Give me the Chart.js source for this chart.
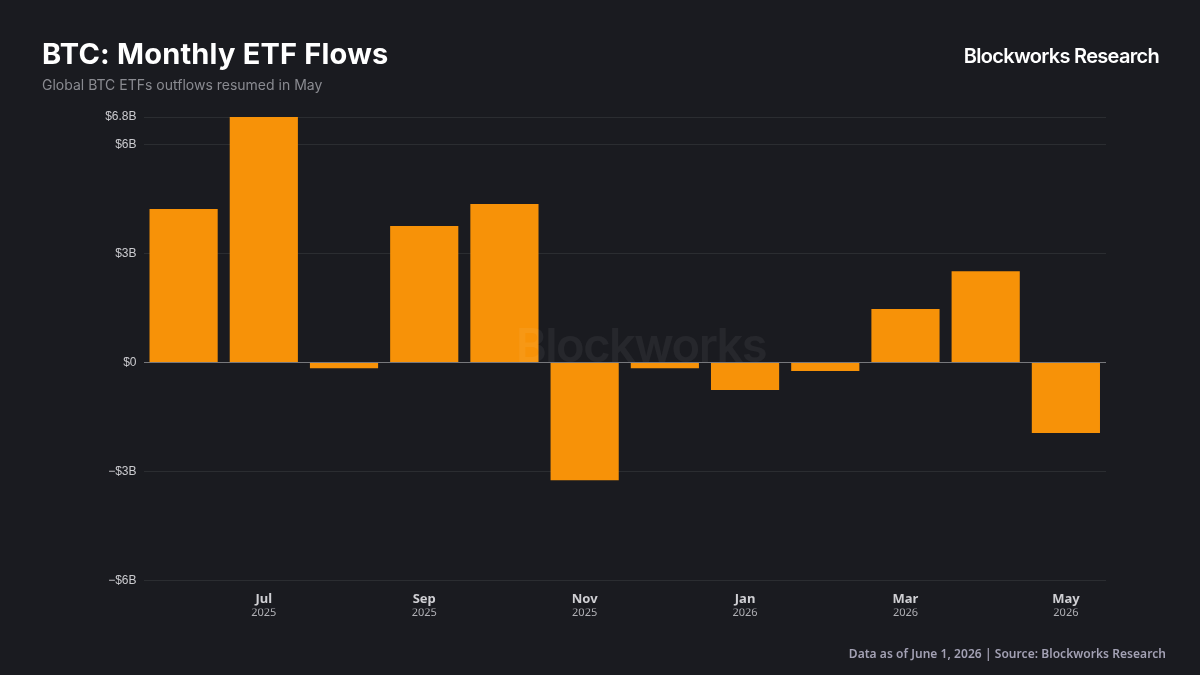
<!DOCTYPE html>
<html>
<head>
<meta charset="utf-8">
<script src="https://cdn.jsdelivr.net/npm/chart.js@4"></script>
<style>
html, body { margin: 0; padding: 0; background: #1a1b20; }
#wrap { position: relative; width: 1200px; height: 675px; overflow: hidden; background: #1a1b20; }
#chart { position: absolute; left: 0; top: 0; }
.txt { position: absolute; white-space: nowrap; }
#title { left: 42px; top: 36px; font: 700 29px Inter, sans-serif; letter-spacing: 0.2px; color: #fff; }
#subtitle { left: 42px; top: 76px; font: 400 14px Inter, sans-serif; color: #8a8b91; }
#brand { right: 41px; top: 44px; font: 600 20px Inter, sans-serif; letter-spacing: -0.7px; color: #fff; }
#source { right: 34px; top: 645px; font: 600 12px "Noto Sans", sans-serif; letter-spacing: 0.05px; color: #a3a1b4; }
</style>
</head>
<body>
<div id="wrap">
  <canvas id="chart" width="1200" height="675"></canvas>
  <div class="txt" id="title">BTC: Monthly ETF Flows</div>
  <div class="txt" id="subtitle">Global BTC ETFs outflows resumed in May</div>
  <div class="txt" id="brand">Blockworks Research</div>
  <div class="txt" id="source">Data as of June 1, 2026 | Source: Blockworks Research</div>
</div>
<script>
const months = ["Jun", "Jul", "Aug", "Sep", "Oct", "Nov", "Dec", "Jan", "Feb", "Mar", "Apr", "May"];
const years = ["2025", "2025", "2025", "2025", "2025", "2025", "2025", "2026", "2026", "2026", "2026", "2026"];
const flows = [4.22, 6.75, -0.16, 3.75, 4.36, -3.24, -0.16, -0.76, -0.24, 1.47, 2.51, -1.94];
const yTicks = [-6, -3, 0, 3, 6, 6.75];

function yLabel(v) {
    if (v === 0) return "$0";
    return (v < 0 ? "\u2212" : "") + "$" + (v === 6.75 ? "6.8" : Math.abs(v)) + "B";
}

// faint logo sits on top of the bars
const watermark = {
    id: "watermark",
    afterDatasetsDraw(c) {
        const ctx = c.ctx;
        ctx.save();
        ctx.font = "600 47px Inter, sans-serif";
        ctx.letterSpacing = "-1.5px";
        ctx.fillStyle = "rgba(255,255,255,0.055)";
        ctx.textAlign = "center";
        ctx.textBaseline = "alphabetic";
        ctx.fillText("Blockworks", 641, 362);
        ctx.restore();
    }
};

new Chart(document.getElementById("chart"), {
    type: "bar",
    data: {
        labels: months,
        datasets: [{
            data: flows,
            backgroundColor: "#f79208",
            borderWidth: 0,
            barPercentage: 0.85,
            categoryPercentage: 1
        }]
    },
    options: {
        responsive: false,
        animation: false,
        layout: { padding: { left: 0, right: 94, top: 117, bottom: 50.5 } },
        plugins: { legend: { display: false }, tooltip: { enabled: false } },
        scales: {
            x: {
                position: "bottom",
                grid: { display: false, drawTicks: false },
                border: { display: false },
                afterFit(s) { s.height = 28; },
                ticks: {
                    autoSkip: false,
                    maxRotation: 0,
                    padding: 11,
                    color: "#cfcfd3",
                    font: { family: "'Noto Sans'", size: 13, weight: "700" },
                    callback(v, i) { return i % 2 === 1 ? months[i] : ""; }
                }
            },
            year: {
                type: "category",
                position: "bottom",
                labels: years,
                grid: { display: false, drawTicks: false },
                border: { display: false },
                afterFit(s) { s.height = 16; },
                ticks: {
                    autoSkip: false,
                    maxRotation: 0,
                    padding: -2,
                    color: "#b0b0b5",
                    font: { family: "'Noto Sans'", size: 11 },
                    callback(v, i) { return i % 2 === 1 ? years[i] : ""; }
                }
            },
            y: {
                min: -6,
                max: 6.75,
                afterFit(s) { s.width = 143.5; },
                afterBuildTicks(s) { s.ticks = yTicks.map(v => ({ value: v })); },
                grid: {
                    drawTicks: false,
                    color: c => c.tick.value === 0 ? "#77787c" : "#2b2d31",
                    lineWidth: 1
                },
                border: { display: false },
                ticks: {
                    padding: 7,
                    color: "#cbcbcf",
                    font: { family: "'Liberation Sans'", size: 12 },
                    callback: v => yLabel(v)
                }
            }
        }
    },
    plugins: [watermark]
});
</script>
</body>
</html>
